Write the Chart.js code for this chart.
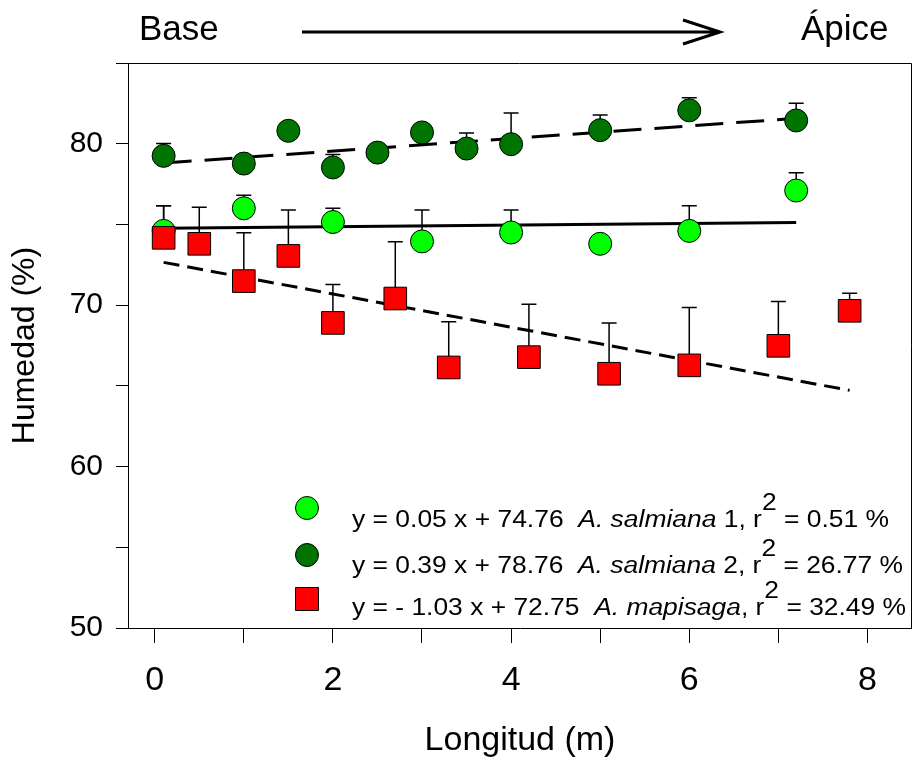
<!DOCTYPE html>
<html>
<head>
<meta charset="utf-8">
<script src="https://cdn.jsdelivr.net/npm/chart.js@4.4.1/dist/chart.umd.min.js"></script>
<style>
  html, body { margin: 0; padding: 0; background: #fff; }
  #wrap { width: 912px; height: 761px; }
</style>
</head>
<body>
<div id="wrap"><canvas id="chart" width="912" height="761"></canvas></div>
<script>
const FONT = "'Liberation Sans', Arial, Helvetica, sans-serif";

// A. salmiana 1 (verde claro)
const salm1X = [0.1, 1, 2, 3, 4, 5, 6, 7.2];
const salm1Y = [74.6, 76.0, 75.15, 73.95, 74.5, 73.8, 74.6, 77.1];
const salm1Err = [1.55, 0.8, 0.85, 1.95, 1.4, 0.4, 1.55, 1.1];

// A. salmiana 2 (verde oscuro)
const salm2X = [0.1, 1, 1.5, 2, 2.5, 3, 3.5, 4, 5, 6, 7.2];
const salm2Y = [79.25, 78.77, 80.8, 78.53, 79.45, 80.7, 79.7, 79.97, 80.84, 82.07, 81.44];
const salm2Err = [0.77, 0.5, 0.4, 0.8, 0.5, 0.4, 0.97, 1.93, 0.94, 0.77, 1.06];

// A. mapisaga (rojo)
const mapiX = [0.1, 0.5, 1, 1.5, 2, 2.7, 3.3, 4.2, 5.1, 6, 7, 7.8];
const mapiY = [74.17, 73.8, 71.49, 73.05, 68.9, 70.41, 66.14, 66.78, 65.75, 66.27, 67.48, 69.65];
const mapiErr = [1.98, 2.27, 2.99, 2.85, 2.38, 3.51, 2.83, 3.28, 3.15, 3.59, 2.75, 1.09];

// extremos de las rectas de regresion
const fit1X = [0.1, 7.2], fit1Y = [74.77, 75.12];
const fit2X = [0.1, 7.2], fit2Y = [78.8, 81.57];
const fit3X = [0.1, 7.8], fit3Y = [72.65, 64.72];

// ejes
const xTicks = [0, 1, 2, 3, 4, 5, 6, 7, 8];
const yTicks = [50, 55, 60, 65, 70, 75, 80, 85];

// leyenda
const legendEq = ['y = 0.05 x + 74.76  ', 'y = 0.39 x + 78.76  ', 'y = - 1.03 x + 72.75  '];
const legendSp = ['A. salmiana', 'A. salmiana', 'A. mapisaga'];
const legendTail = [' 1, r', ' 2, r', ', r'];
const legendR2 = [' = 0.51 %', ' = 26.77 %', ' = 32.49 %'];

const pts = (xs, ys) => xs.map((x, i) => ({ x: x, y: ys[i] }));

const errorBars = {
  id: 'errorBars',
  beforeDatasetsDraw(chart) {
    const ctx = chart.ctx, ys = chart.scales.y;
    chart.data.datasets.forEach((ds, i) => {
      if (!ds.errors) return;
      const meta = chart.getDatasetMeta(i);
      ctx.save();
      ctx.strokeStyle = '#000';
      ctx.lineWidth = 1.5;
      meta.data.forEach((el, j) => {
        const top = ys.getPixelForValue(ds.data[j].y + ds.errors[j]);
        ctx.beginPath();
        ctx.moveTo(el.x, el.y);
        ctx.lineTo(el.x, top);
        ctx.moveTo(el.x - 7.5, top);
        ctx.lineTo(el.x + 7.5, top);
        ctx.stroke();
      });
      ctx.restore();
    });
  }
};

function drawRow(ctx, x, base, parts, targetW) {
  let w = 0;
  parts.forEach(p => { ctx.font = p.font; p.w = ctx.measureText(p.text).width; w += p.w; });
  ctx.save();
  ctx.translate(x, base);
  ctx.scale(targetW / w, 1);
  let cx = 0;
  parts.forEach(p => { ctx.font = p.font; ctx.fillText(p.text, cx, p.dy || 0); cx += p.w; });
  ctx.restore();
}

const extras = {
  id: 'extras',
  afterDraw(chart) {
    const ctx = chart.ctx, a = chart.chartArea;
    ctx.save();
    // marco superior y derecho
    ctx.strokeStyle = '#000';
    ctx.lineWidth = 1;
    ctx.beginPath();
    ctx.moveTo(a.left, a.top + 0.5);
    ctx.lineTo(a.right - 0.5, a.top + 0.5);
    ctx.lineTo(a.right - 0.5, a.bottom);
    ctx.stroke();

    // Base -> Apice
    ctx.fillStyle = '#000';
    ctx.textBaseline = 'alphabetic';
    ctx.font = '35px ' + FONT;
    ctx.fillText('Base', 139, 39.5);
    ctx.fillText('Ápice', 801, 40);
    ctx.lineWidth = 3;
    ctx.beginPath();
    ctx.moveTo(302, 32);
    ctx.lineTo(719, 32);
    ctx.moveTo(683, 20);
    ctx.lineTo(720, 32);
    ctx.lineTo(683, 44);
    ctx.stroke();

    // leyenda
    const marks = [
      { y: 508, c: '#00ff00', sq: false },
      { y: 555, c: '#007400', sq: false },
      { y: 599, c: '#ff0000', sq: true }
    ];
    ctx.lineWidth = 1;
    marks.forEach(m => {
      ctx.fillStyle = m.c;
      ctx.beginPath();
      if (m.sq) ctx.rect(307 - 11.5, m.y - 11.5, 23, 23);
      else ctx.arc(307, m.y, 11.5, 0, Math.PI * 2);
      ctx.fill();
      ctx.stroke();
    });
    ctx.fillStyle = '#000';
    const bases = [527, 573, 615];
    const widths = [537, 551, 554];
    const f = '23px ' + FONT, fi = 'italic 23px ' + FONT;
    for (let i = 0; i < 3; i++) {
      drawRow(ctx, 352, bases[i], [
        { text: legendEq[i], font: f },
        { text: legendSp[i], font: fi },
        { text: legendTail[i], font: f },
        { text: '2', font: f, dy: -17 },
        { text: legendR2[i], font: f }
      ], widths[i]);
    }
    ctx.restore();
  }
};

const marker = (color, style, radius) => ({
  pointStyle: style,
  pointRadius: radius,
  pointHoverRadius: radius,
  pointBackgroundColor: color,
  pointBorderColor: '#000',
  pointBorderWidth: 1,
  showLine: false
});

const fitLine = (xs, ys, dash, order) => ({
  data: pts(xs, ys),
  showLine: true,
  borderColor: '#000',
  borderWidth: 3,
  borderDash: dash,
  pointRadius: 0,
  fill: false,
  order: order
});

new Chart(document.getElementById('chart'), {
  type: 'scatter',
  data: {
    datasets: [
      Object.assign({ label: 'A. mapisaga', data: pts(mapiX, mapiY), errors: mapiErr, order: 0 }, marker('#ff0000', 'rect', 16)),
      Object.assign({ label: 'A. salmiana 1', data: pts(salm1X, salm1Y), errors: salm1Err, order: 1 }, marker('#00ff00', 'circle', 11.5)),
      Object.assign({ label: 'A. salmiana 2', data: pts(salm2X, salm2Y), errors: salm2Err, order: 2 }, marker('#007400', 'circle', 11.5)),
      fitLine(fit1X, fit1Y, [], 3),
      fitLine(fit2X, fit2Y, [28, 13], 4),
      fitLine(fit3X, fit3Y, [16, 8], 5)
    ]
  },
  options: {
    responsive: false,
    animation: false,
    events: [],
    layout: { autoPadding: false, padding: { top: 63, right: 0, left: 0, bottom: 0 } },
    plugins: { legend: { display: false }, tooltip: { enabled: false } },
    scales: {
      x: {
        type: 'linear',
        min: -0.3,
        max: 8.5,
        afterBuildTicks: s => { s.ticks = xTicks.map(v => ({ value: v })); },
        afterFit: s => { s.height = 133; s.paddingLeft = 0; s.paddingRight = 0; },
        grid: { drawOnChartArea: false, drawTicks: true, tickLength: 15, color: '#000', lineWidth: 1 },
        border: { display: true, color: '#000', width: 1 },
        ticks: {
          autoSkip: false, maxRotation: 0, padding: 17, color: '#000',
          font: { family: FONT, size: 34 },
          callback: v => (v % 2 === 0 ? String(v) : '')
        },
        title: { display: true, text: 'Longitud (m)', color: '#000', font: { family: FONT, size: 34 }, padding: { top: 0, bottom: 0 } }
      },
      y: {
        type: 'linear',
        min: 50,
        max: 85,
        afterBuildTicks: s => { s.ticks = yTicks.map(v => ({ value: v })); },
        afterFit: s => { s.width = 128; s.paddingTop = 0; s.paddingBottom = 0; },
        grid: { drawOnChartArea: false, drawTicks: true, tickLength: 12, color: '#000', lineWidth: 1 },
        border: { display: true, color: '#000', width: 1 },
        ticks: {
          autoSkip: false, padding: 13, color: '#000',
          font: { family: FONT, size: 30 },
          callback: v => (v % 10 === 0 && v < 85 ? String(v) : '')
        },
        title: { display: true, text: 'Humedad (%)', color: '#000', font: { family: FONT, size: 32 }, padding: { top: 6, bottom: 0 } }
      }
    }
  },
  plugins: [errorBars, extras]
});
</script>
</body>
</html>
